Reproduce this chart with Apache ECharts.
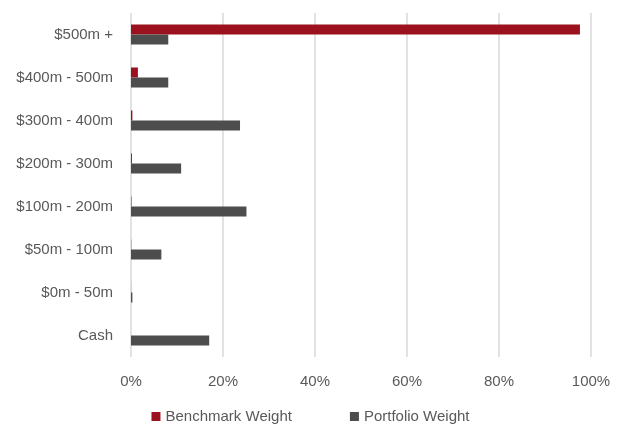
<!DOCTYPE html>
<html><head><meta charset="utf-8">
<script src="https://cdn.jsdelivr.net/npm/echarts@6/dist/echarts.min.js"></script>
<style>html,body{margin:0;padding:0;background:#fff}#c{width:621px;height:427px}</style>
</head><body><div id="c"></div>
<script>
const categories = ["$500m +", "$400m - 500m", "$300m - 400m", "$200m - 300m", "$100m - 200m", "$50m - 100m", "$0m - 50m", "Cash"];
const benchmarkWeight = [97.6, 1.5, 0.3, 0.2, 0.1, 0.05, 0.02, 0];
const portfolioWeight = [8.1, 8.1, 23.7, 10.9, 25.1, 6.6, 0.3, 17.0];
const xTicks = [0, 20, 40, 60, 80, 100];

const chart = echarts.init(document.getElementById('c'), null, {renderer: 'canvas'});
const font = '"Liberation Sans", Arial, sans-serif';
chart.setOption({
  animation: false,
  textStyle: {fontFamily: font},
  grid: {left: 131, right: 30, top: 13, bottom: 70, containLabel: false},
  legend: {
    top: 404, left: 'center',
    itemWidth: 9, itemHeight: 9, itemGap: 58,
    icon: 'rect',
    textStyle: {fontFamily: font, fontSize: 15, color: '#595959', padding: [0,0,0,0]},
    data: ['Benchmark Weight', 'Portfolio Weight']
  },
  xAxis: {
    type: 'value', min: xTicks[0], max: xTicks[xTicks.length-1], interval: 20,
    axisLine: {show: false}, axisTick: {show: false},
    axisLabel: {formatter: v => v + '%', color: '#595959', fontSize: 15, fontFamily: font, margin: 17},
    splitLine: {lineStyle: {color: '#d9d9d9', width: 1.5}}
  },
  yAxis: {
    type: 'category', data: categories, inverse: true,
    axisLine: {show: false}, axisTick: {show: false},
    axisLabel: {color: '#595959', fontSize: 15, fontFamily: font, margin: 18}
  },
  series: [
    {name: 'Benchmark Weight', type: 'bar', data: benchmarkWeight, barWidth: 10, barGap: '0%',
     itemStyle: {color: '#9B111E'}},
    {name: 'Portfolio Weight', type: 'bar', data: portfolioWeight, barWidth: 10, barGap: '0%',
     itemStyle: {color: '#4D4D4D'}}
  ]
});
</script></body></html>
